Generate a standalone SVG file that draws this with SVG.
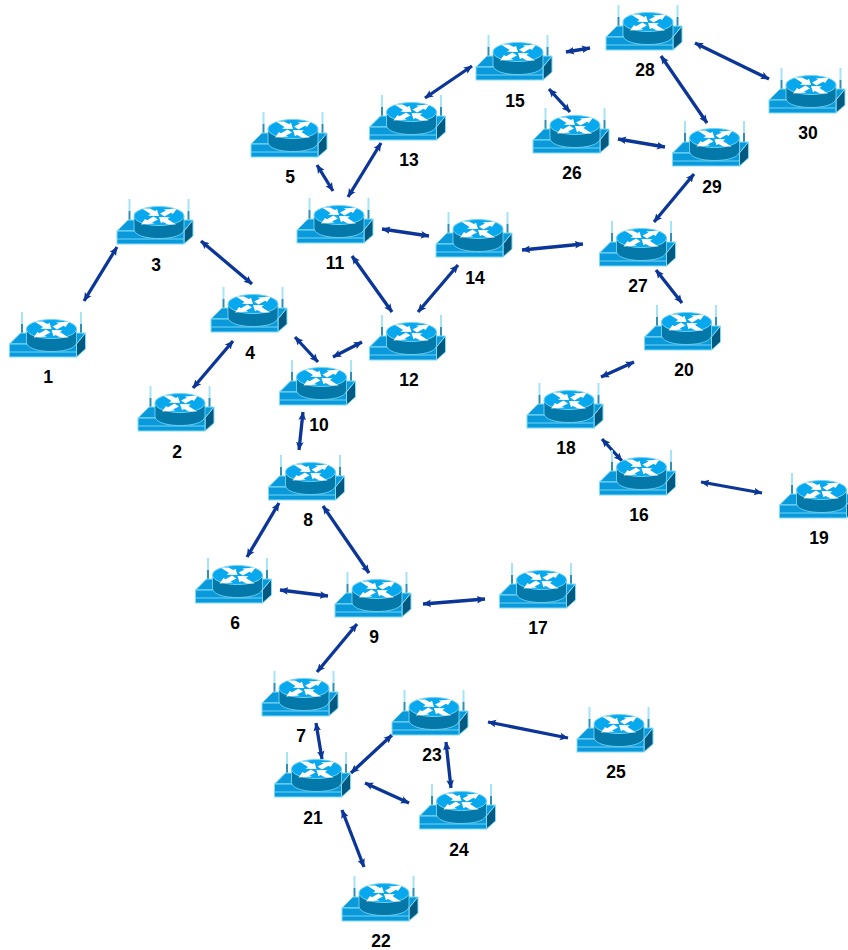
<svg xmlns="http://www.w3.org/2000/svg" width="848" height="950" viewBox="0 0 848 950">
<style>
.ln{stroke:#0b3697;stroke-width:3.300;fill:none;marker-start:url(#a);marker-end:url(#a)}
.lb{font:bold 17.500px "Liberation Sans",Arial,sans-serif;fill:#000;text-anchor:middle}
</style>
<defs>
<marker id="a" viewBox="0 0 10 10" refX="9.500" refY="5" markerWidth="8.500" markerHeight="8.500" markerUnits="userSpaceOnUse" orient="auto-start-reverse"><path d="M0 0.500L10 5L0 9.500L2 5Z" fill="#0b3697"/></marker>
<g id="r">
<path d="M12.500 0V12M71.500 0V12" stroke="#a5e4f7" stroke-width="2" fill="none"/>
<path d="M12.500 12V24M71.500 12V24" stroke="#2f8fb5" stroke-width="2" fill="none"/>
<path d="M0 32L11 21H76L67 32Z" fill="#0a9adb" stroke="#7fdcf8" stroke-width="1"/>
<path d="M67 32L76 21V37L67 45Z" fill="#03597f" stroke="#7fdcf8" stroke-width="1"/>
<rect x="0" y="32" width="67" height="13" fill="#0a9adb" stroke="#7fdcf8" stroke-width="1"/>
<path d="M0 40H67" stroke="#6fd4f5" stroke-width="1.200"/>
<path d="M17 17V30C17 36 28 39.500 42 39.500S67 36 67 30V17Z" fill="#0478a8" stroke="#7fdcf8" stroke-width=".8"/>
<ellipse cx="42" cy="17" rx="25" ry="9.500" fill="#08a8ee" stroke="#6fd4f5" stroke-width="1"/>
<path d="M43 14.500L49 11.500L46.500 10.500L60 9.500L56 15L54 13.800L47.500 17.500ZM41 20.500L35 23.500L37.500 24.500L24 25.500L28 20L30 21.200L36.500 17.500ZM25 9.500H33L38 12L40 10.800L42 17L31 16.800L33.500 15ZM59 25.500H51L46 23L44 24.200L42 18L53 18.200L50.500 20Z" fill="#fff"/>
</g>
</defs>
<g id="connectors">
<path class="ln" d="M84 301L117 247"/><path class="ln" d="M201 241L252 284"/><path class="ln" d="M233 341L193 388"/><path class="ln" d="M295 337L318 362"/><path class="ln" d="M333 357L362 342"/><path class="ln" d="M303 412L299 450"/><path class="ln" d="M317 165L333 191"/><path class="ln" d="M348 197L381 143"/><path class="ln" d="M382 229L429 236"/><path class="ln" d="M352 256L392 312"/><path class="ln" d="M418 312L458 265"/><path class="ln" d="M522 250L583 244"/><path class="ln" d="M425 98L472 66"/><path class="ln" d="M566 52L590 48"/><path class="ln" d="M549 89L570 112"/><path class="ln" d="M618 139L665 147"/><path class="ln" d="M695 43L769 79"/><path class="ln" d="M661 56L707 123"/><path class="ln" d="M694 174L654 222"/><path class="ln" d="M656 270L682 303"/><path class="ln" d="M634 362L601 377"/><path class="ln" d="M602 439L622 461"/><path class="ln" d="M701 482L762 493"/><path class="ln" d="M279 503L247 557"/><path class="ln" d="M323 506L369 573"/><path class="ln" d="M280 590L328 596"/><path class="ln" d="M423 604L485 599"/><path class="ln" d="M357 624L317 672"/><path class="ln" d="M316 723L322 759"/><path class="ln" d="M351 773L392 735"/><path class="ln" d="M365 783L409 803"/><path class="ln" d="M342 810L364 867"/><path class="ln" d="M488 722L568 738"/><path class="ln" d="M446 742L451 788"/>
</g>
<g id="n1"><use href="#r" x="9.500" y="312"/><text class="lb" x="48" y="383">1</text></g>
<g id="n2"><use href="#r" x="138" y="386"/><text class="lb" x="177" y="458">2</text></g>
<g id="n3"><use href="#r" x="117" y="199"/><text class="lb" x="156" y="271">3</text></g>
<g id="n4"><use href="#r" x="211" y="287"/><text class="lb" x="250" y="359">4</text></g>
<g id="n5"><use href="#r" x="251" y="112"/><text class="lb" x="290" y="183">5</text></g>
<g id="n6"><use href="#r" x="195.500" y="558"/><text class="lb" x="235" y="629">6</text></g>
<g id="n7"><use href="#r" x="262" y="671"/><text class="lb" x="301" y="742">7</text></g>
<g id="n8"><use href="#r" x="268.500" y="455"/><text class="lb" x="308" y="526">8</text></g>
<g id="n9"><use href="#r" x="335" y="572"/><text class="lb" x="374" y="643">9</text></g>
<g id="n10"><use href="#r" x="279.500" y="360"/><text class="lb" x="319" y="431">10</text></g>
<g id="n11"><use href="#r" x="297" y="198"/><text class="lb" x="335" y="269">11</text></g>
<g id="n12"><use href="#r" x="369.500" y="315"/><text class="lb" x="409" y="386">12</text></g>
<g id="n13"><use href="#r" x="369.500" y="95"/><text class="lb" x="409" y="166">13</text></g>
<g id="n14"><use href="#r" x="436" y="212"/><text class="lb" x="475" y="284">14</text></g>
<g id="n15"><use href="#r" x="476" y="35"/><text class="lb" x="515" y="107">15</text></g>
<g id="n16"><use href="#r" x="599.500" y="450"/><text class="lb" x="639" y="521">16</text></g>
<g id="n17"><use href="#r" x="499.500" y="563"/><text class="lb" x="538" y="634">17</text></g>
<g id="n18"><use href="#r" x="527" y="383"/><text class="lb" x="566" y="454">18</text></g>
<g id="n19"><use href="#r" x="779.500" y="473"/><text class="lb" x="819" y="544">19</text></g>
<g id="n20"><use href="#r" x="644.500" y="305"/><text class="lb" x="684" y="376">20</text></g>
<g id="n21"><use href="#r" x="274.500" y="752"/><text class="lb" x="313" y="824">21</text></g>
<g id="n22"><use href="#r" x="342" y="876"/><text class="lb" x="381" y="947">22</text></g>
<g id="n23"><use href="#r" x="392" y="690"/><text class="lb" x="432" y="761">23</text></g>
<g id="n24"><use href="#r" x="419.500" y="784"/><text class="lb" x="459" y="856">24</text></g>
<g id="n25"><use href="#r" x="577" y="707"/><text class="lb" x="616" y="778">25</text></g>
<g id="n26"><use href="#r" x="533" y="108"/><text class="lb" x="572" y="179">26</text></g>
<g id="n27"><use href="#r" x="599.500" y="221"/><text class="lb" x="638" y="292">27</text></g>
<g id="n28"><use href="#r" x="606" y="5"/><text class="lb" x="645" y="76">28</text></g>
<g id="n29"><use href="#r" x="672.500" y="121"/><text class="lb" x="712" y="193">29</text></g>
<g id="n30"><use href="#r" x="769" y="68"/><text class="lb" x="808" y="139">30</text></g>
</svg>
